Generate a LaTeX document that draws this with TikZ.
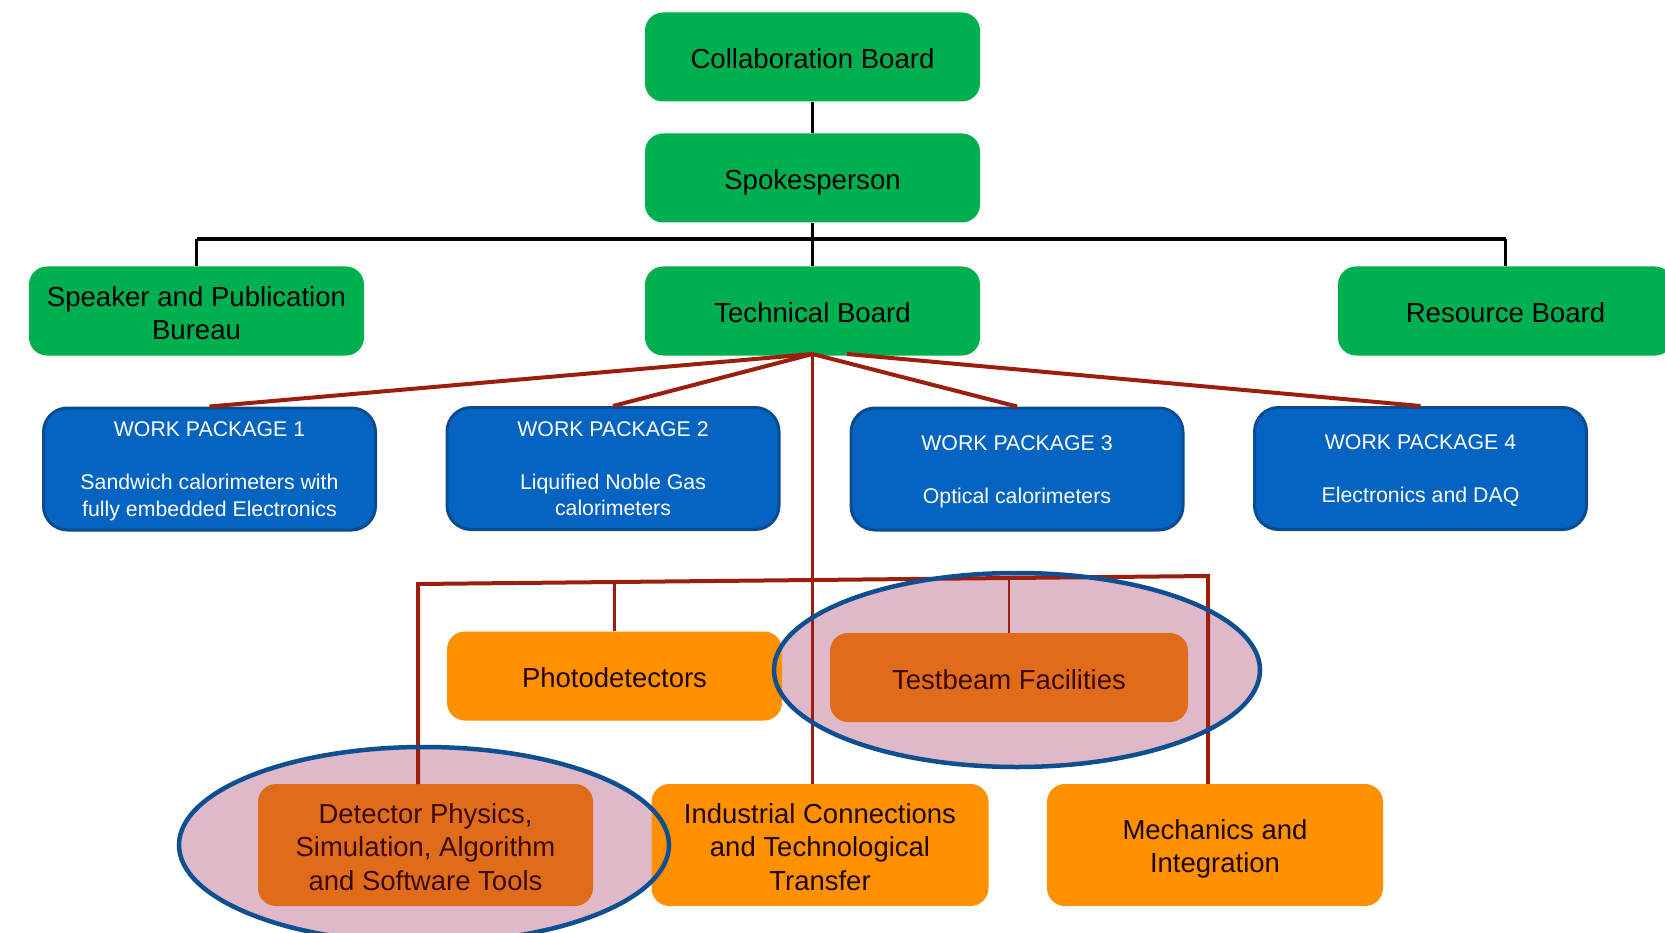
\documentclass[tikz,border=0pt]{standalone}
\usepackage{fontspec}
\setmainfont{Liberation Sans}
\usetikzlibrary{shapes.geometric}
\definecolor{gfill}{HTML}{00B050}
\definecolor{bfill}{HTML}{0563C1}
\definecolor{bdraw}{HTML}{0A4C8F}
\definecolor{ofill}{HTML}{FF9000}
\definecolor{dofill}{HTML}{E06C1A}
\definecolor{rline}{HTML}{9C1F0E}
\definecolor{pinkfill}{HTML}{DFB9CA}
\definecolor{ellline}{HTML}{0D4F91}
\definecolor{otext}{HTML}{1E0505}
\definecolor{dotext}{HTML}{3A0808}
% struts that fix the vertical placement of the text in the boxes
\newcommand{\gtop}{\rule{0pt}{28pt}}
\newcommand{\gbot}{\rule[-5pt]{0pt}{5pt}}
\newcommand{\btop}{\rule{0pt}{20pt}}
\newcommand{\bbot}{\rule[-5pt]{0pt}{5pt}}
\begin{document}
\begin{tikzpicture}[x=1pt,y=-1pt,
  greenbox/.style={fill=gfill, rounded corners=18pt, minimum width=335pt, minimum height=89pt, inner sep=0pt, align=center, text=black, font=\fontsize{27.6}{33}\selectfont},
  bluebox/.style={fill=bfill, draw=bdraw, line width=3pt, rounded corners=24pt, minimum width=332pt, minimum height=122pt, inner sep=0pt, align=center, text=white, font=\fontsize{21.3}{26.5}\selectfont},
  orangebox/.style={fill=ofill, rounded corners=18pt, minimum width=335pt, inner sep=0pt, align=center, text=otext, font=\fontsize{27.5}{33.5}\selectfont},
  darkbox/.style={orangebox, fill=dofill, text=dotext},
  blackline/.style={draw=black, line width=2.5pt},
  blackbus/.style={draw=black, line width=4pt},
  redthick/.style={draw=rline, line width=4pt},
  redthin/.style={draw=rline, line width=2.8pt},
  ellfill/.style={fill=pinkfill},
  ellborder/.style={draw=ellline, line width=4.5pt}
]
\useasboundingbox (0,0) rectangle (1665,933);
\clip (0,0) rectangle (1665,933);

% ellipse fills
\fill[ellfill] (1017,670) ellipse [x radius=243pt, y radius=97pt];
\fill[ellfill] (424,845) ellipse [x radius=245pt, y radius=98pt];

% green boxes
\node[greenbox] (cb) at (812.5,57) {\gtop Collaboration Board\gbot};
\node[greenbox] (sp) at (812.5,178) {\gtop Spokesperson\gbot};
\node[greenbox] (spb) at (196.5,311) {\gtop Speaker and Publication\\Bureau\gbot};
\node[greenbox] (tb) at (812.5,311) {\gtop Technical Board\gbot};
\node[greenbox] (rb) at (1505.5,311) {\gtop Resource Board\gbot};

% blue boxes
\node[bluebox] (wp1) at (209.5,469) {\btop WORK PACKAGE 1\\[26.5pt]Sandwich calorimeters with\\fully embedded Electronics\bbot};
\node[bluebox] (wp2) at (613,468.5) {\btop WORK PACKAGE 2\\[26.5pt]Liquified Noble Gas\\calorimeters\bbot};
\node[bluebox] (wp3) at (1017,469) {\btop WORK PACKAGE 3\\[26.5pt]Optical calorimeters\bbot};
\node[bluebox] (wp4) at (1420.5,468.5) {\btop WORK PACKAGE 4\\[26.5pt]Electronics and DAQ\bbot};

% orange boxes
\node[orangebox, minimum height=89pt] (pd) at (614.5,676) {\gtop Photodetectors\gbot};
\node[darkbox, minimum height=89pt, minimum width=358pt] (tf) at (1009,677.5) {\gtop Testbeam Facilities\gbot};
\node[darkbox, minimum height=122pt] (dp) at (425.5,845) {\gtop Detector Physics,\\Simulation, Algorithm\\and Software Tools\gbot};
\node[orangebox, minimum height=122pt, minimum width=337pt] (ic) at (820,845) {\gtop Industrial Connections\\and Technological\\Transfer\gbot};
\node[orangebox, minimum height=122pt, minimum width=336pt] (mi) at (1215,845) {\gtop Mechanics and\\Integration\gbot};

% black connectors
\path (spb.north) ++(0,-27) coordinate (busL);
\path (rb.north) ++(0,-27) coordinate (busR);
\draw[blackline] (cb.south) -- (sp.north);
\draw[blackline] (sp.south) -- (tb.north);
\draw[blackline] (busL) -- (spb.north);
\draw[blackline] (busR) -- (rb.north);
\draw[blackbus] (busL) -- (busR);

% red connectors to work packages
\coordinate (tbs) at (812.5,354);
\coordinate (tbs4) at (847,354);
\draw[redthick] (tbs) -- (wp1.north);
\draw[redthick] (tbs) -- (wp2.north);
\draw[redthick] (tbs) -- (wp3.north);
\draw[redthick] (tbs4) -- (wp4.north);

% central trunk and bus
\coordinate (trunkEnd) at (tbs |- ic.north);
\draw[redthin] (tbs) -- (trunkEnd);
\coordinate (rbL) at (418,584);
\coordinate (rbR) at (1208,576);
\coordinate (dpTop) at (418,784);
\coordinate (miTop) at (1208,784);
\coordinate (bpd) at (614.5,582);
\coordinate (btf) at (1009,578);
\draw[redthick, line join=miter] (dpTop) -- (rbL) -- (rbR) -- (miTop);
\draw[redthin] (bpd) -- (pd.north);
\draw[redthin] (btf) -- (tf.north);

% ellipse outlines
\draw[ellborder] (1017,670) ellipse [x radius=243pt, y radius=97pt];
\draw[ellborder] (424,845) ellipse [x radius=245pt, y radius=98pt];
\end{tikzpicture}
\end{document}
